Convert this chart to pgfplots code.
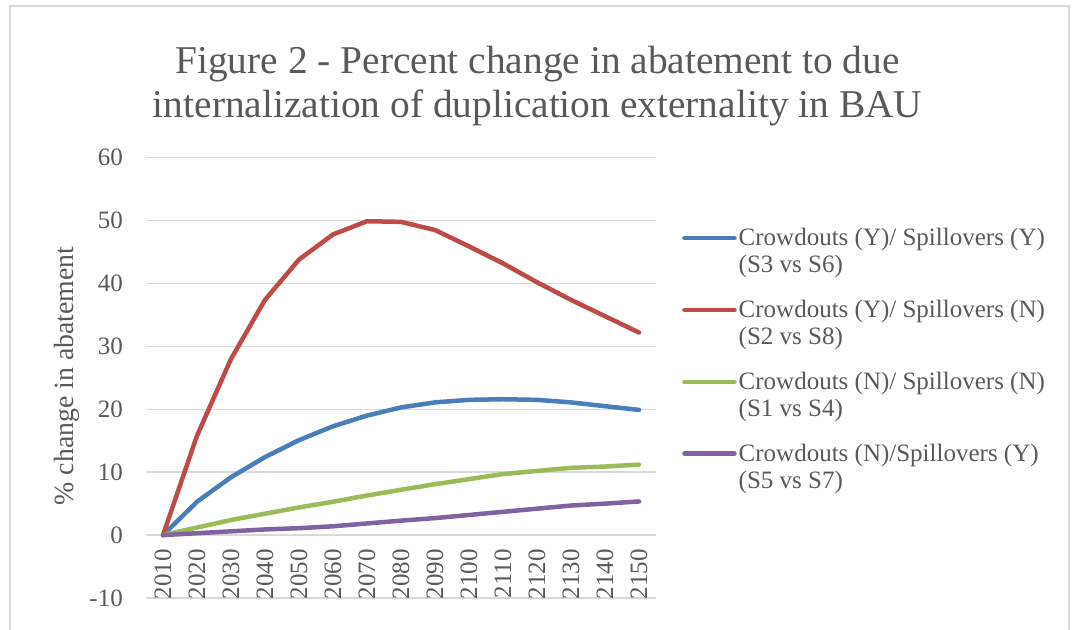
\documentclass[border=0pt]{standalone}
\usepackage{fontspec}
\setmainfont{Liberation Serif}
\usepackage{pgfplots}
\pgfplotsset{compat=1.18}
\definecolor{txtgray}{HTML}{595959}
\definecolor{gridgray}{HTML}{D9D9D9}
\definecolor{sblue}{HTML}{4A7EBB}
\definecolor{sred}{HTML}{BE4B48}
\definecolor{sgreen}{HTML}{9BBB59}
\definecolor{spurple}{HTML}{7F62A0}
\begin{document}
\begin{tikzpicture}[x=1pt,y=1pt]
\useasboundingbox (0,0) rectangle (1075,629);
\draw[gridgray, line width=2pt] (10,-5) -- (10,623) -- (1068.5,623) -- (1068.5,-5);
\node[anchor=base, text=txtgray, font=\fontsize{39.4}{46}\selectfont] at (537.5,555) {Figure 2 - Percent change in abatement to due};
\node[anchor=base, text=txtgray, font=\fontsize{39.4}{46}\selectfont] at (537.5,511) {internalization of duplication externality in BAU};
\node[rotate=90, text=txtgray, font=\fontsize{27.8}{30}\selectfont] at (67,253) {\% change in abatement};
\begin{axis}[
  at={(146pt,31pt)}, anchor=south west,
  width=510pt, height=440.3pt, scale only axis,
  xmin=-0.5, xmax=14.5, ymin=-10, ymax=60,
  axis x line=middle, axis y line=left,
  x axis line style={draw=none}, y axis line style={draw=none},
  xtick={0,...,14},
  xticklabels={2010,2020,2030,2040,2050,2060,2070,2080,2090,2100,2110,2120,2130,2140,2150},
  ytick={-10,0,...,60},
  major tick length=0pt,
  ymajorgrids, grid style={gridgray, line width=1.5pt},
  /pgf/number format/assume math mode=true,
  tick label style={text=txtgray, font=\fontsize{25}{28}\selectfont},
  xticklabel style={rotate=90, anchor=east, inner sep=0pt},
  xticklabel shift=14pt,
  yticklabel style={anchor=east, inner sep=0pt, xshift=-23pt},
  every axis plot/.append style={line width=4.5pt, line cap=round, line join=round},
  legend style={draw=none, fill=none, at={(1.051,0.845)}, anchor=north west,
    font=\fontsize{25}{27}\selectfont, text=txtgray, row sep=22pt,
    cells={align=left}, inner sep=0pt,
    /tikz/every even column/.append style={column sep=6pt}},
  legend cell align=left,
  legend image code/.code={\draw[#1, line width=4.5pt, line cap=round] (2.5pt,13pt) -- (52.5pt,13pt);},
  clip=false,
]
\addplot[sblue] coordinates {(0,0) (1,5.3) (2,9.2) (3,12.4) (4,15.1) (5,17.3) (6,19.0) (7,20.3) (8,21.1) (9,21.5) (10,21.6) (11,21.5) (12,21.1) (13,20.5) (14,19.9)};
\addlegendentry{Crowdouts (Y)/ Spillovers (Y)\\(S3 vs S6)}
\addplot[sred] coordinates {(0,0) (1,15.8) (2,28.0) (3,37.4) (4,43.8) (5,47.8) (6,49.9) (7,49.8) (8,48.5) (9,45.9) (10,43.2) (11,40.2) (12,37.4) (13,34.8) (14,32.2)};
\addlegendentry{Crowdouts (Y)/ Spillovers (N)\\(S2 vs S8)}
\addplot[sgreen] coordinates {(0,0) (1,1.2) (2,2.4) (3,3.4) (4,4.4) (5,5.3) (6,6.3) (7,7.2) (8,8.1) (9,8.9) (10,9.7) (11,10.2) (12,10.7) (13,10.9) (14,11.2)};
\addlegendentry{Crowdouts (N)/ Spillovers (N)\\(S1 vs S4)}
\addplot[spurple] coordinates {(0,0) (1,0.3) (2,0.6) (3,0.9) (4,1.1) (5,1.4) (6,1.85) (7,2.3) (8,2.7) (9,3.2) (10,3.7) (11,4.2) (12,4.7) (13,5.0) (14,5.35)};
\addlegendentry{Crowdouts (N)/Spillovers (Y)\\(S5 vs S7)}
\end{axis}
\end{tikzpicture}
\end{document}
